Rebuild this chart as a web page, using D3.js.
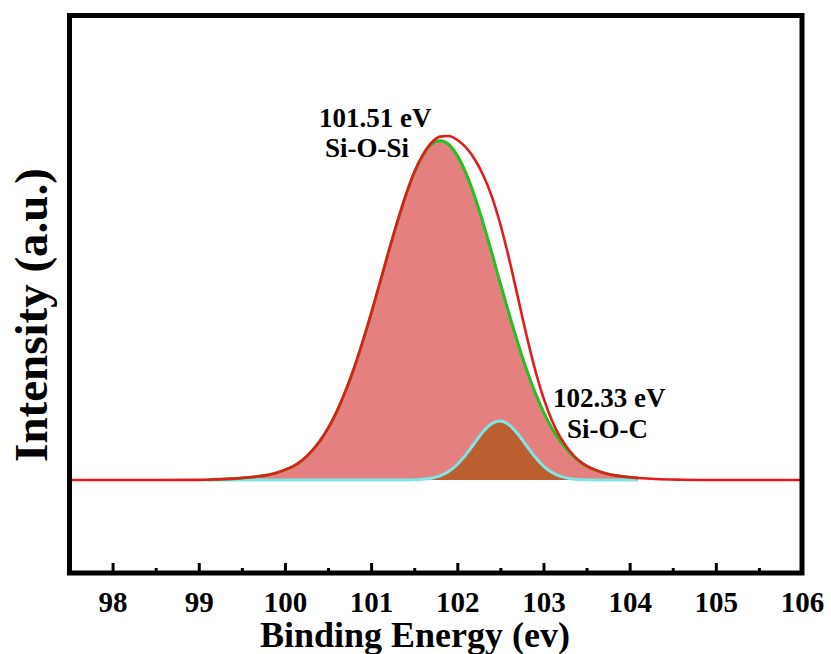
<!DOCTYPE html>
<html>
<head>
<meta charset="utf-8">
<script src="https://cdn.jsdelivr.net/npm/d3@7"></script>
<style>
  html, body { margin: 0; padding: 0; background: #fff; }
  svg { display: block; }
  text { font-family: "Liberation Serif", "Times New Roman", serif; font-weight: bold; fill: #000; }
</style>
</head>
<body>
<div id="chart"></div>
<script>
// --- Données (XPS Si 2p)
const energy = [
  97.5, 98.0, 98.5, 99.0,
  99.1, 99.2, 99.3, 99.4, 99.5, 99.6, 99.7, 99.8, 99.9, 100.0,
  100.1, 100.2, 100.3, 100.4, 100.5, 100.6, 100.7, 100.8, 100.9, 101.0,
  101.1, 101.2, 101.3, 101.4, 101.5, 101.6, 101.7, 101.8, 101.9, 102.0,
  102.1, 102.2, 102.3, 102.4, 102.5, 102.6, 102.7, 102.8, 102.9, 103.0,
  103.1, 103.2, 103.3, 103.4, 103.5, 103.6, 103.7, 103.8, 103.9, 104.0,
  104.1,
  104.3, 104.6, 105.0, 105.5, 106.0
];

// enveloppe (rouge)
const envelope = [
  0, 0, 0, 0.05,
  0.1, 0.2, 0.3, 0.4, 0.6, 0.8, 1.1, 1.5, 2.1, 3.0,
  4.1, 5.8, 8.2, 11.3, 15.2, 20.1, 26.0, 32.8, 40.6, 49.0,
  57.9, 67.0, 75.7, 83.7, 90.6, 95.8, 99.4, 101.2, 101.4, 100.2,
  98.0, 94.6, 89.9, 83.6, 75.3, 65.3, 54.2, 43.0, 32.8, 24.2,
  17.4, 12.4, 8.7, 6.0, 4.2, 3.0, 2.1, 1.5, 1.1, 0.8,
  0.6,
  0.3, 0.1, 0, 0, 0
];

// composante Si-O-Si (vert, remplissage rose)
const siOSi = [
  null, null, null, null,
  0.1, 0.2, 0.3, 0.4, 0.6, 0.8, 1.1, 1.5, 2.1, 3.0,
  4.1, 5.8, 8.2, 11.3, 15.2, 20.1, 26.0, 32.8, 40.6, 49.0,
  57.9, 67.0, 75.7, 83.7, 90.5, 95.6, 98.9, 100, 98.9, 95.6,
  90.5, 83.7, 75.7, 67.0, 57.9, 49.0, 40.6, 32.8, 26.0, 20.1,
  15.2, 11.3, 8.2, 5.8, 4.1, 3.0, 2.1, 1.5, 1.1, 0.8,
  0.6,
  null, null, null, null, null
];

// composante Si-O-C (cyan, remplissage brun)
const siOC = [
  null, null, null, null,
  0, 0, 0, 0, 0, 0, 0, 0, 0, 0,
  0, 0, 0, 0, 0, 0, 0, 0, 0, 0,
  0, 0, 0, 0, 0.07, 0.21, 0.54, 1.24, 2.52, 4.58,
  7.47, 10.91, 14.24, 16.63, 17.4, 16.27, 13.62, 10.20, 6.84, 4.10,
  2.20, 1.06, 0.45, 0.17, 0.06, 0, 0, 0, 0, 0,
  0,
  null, null, null, null, null
];

const xTicks = [98, 99, 100, 101, 102, 103, 104, 105, 106];
const xMinorTicks = [98.5, 99.5, 100.5, 101.5, 102.5, 103.5, 104.5, 105.5];

const peakLabels = [
  { energy: '101.51 eV', bond: 'Si-O-Si' },
  { energy: '102.33 eV', bond: 'Si-O-C' }
];

// --- Mise en page
const W = 831, H = 654;
const frame = { l: 69.5, r: 802, t: 15.5, b: 573 };

const svg = d3.select('#chart').append('svg')
  .attr('width', W).attr('height', H);

const x = d3.scaleLinear().domain([97.5, 106]).range([frame.l, frame.r]);
const y = d3.scaleLinear().domain([-27.4, 136.9]).range([frame.b, frame.t]);

const rows = energy.map((e, i) => ({ e, env: envelope[i], a: siOSi[i], b: siOC[i] }));

const plot = svg.append('g');

// remplissages
const areaA = d3.area().defined(d => d.a != null)
  .x(d => x(d.e)).y0(y(0)).y1(d => y(d.a)).curve(d3.curveMonotoneX);
const areaB = d3.area().defined(d => d.b != null)
  .x(d => x(d.e)).y0(y(0)).y1(d => y(d.b)).curve(d3.curveMonotoneX);

plot.append('path').datum(rows).attr('d', areaA).attr('fill', '#e48080');
plot.append('path').datum(rows).attr('d', areaB).attr('fill', '#bb5f30');

// courbes
const lineOf = key => d3.line().defined(d => d[key] != null)
  .x(d => x(d.e)).y(d => y(d[key])).curve(d3.curveMonotoneX);

plot.append('path').datum(rows).attr('d', lineOf('b'))
  .attr('fill', 'none').attr('stroke', '#7fe6e8').attr('stroke-width', 3);
plot.append('path').datum(rows).attr('d', lineOf('a'))
  .attr('fill', 'none').attr('stroke', '#22c022').attr('stroke-width', 3);
plot.append('path').datum(rows).attr('d', lineOf('env'))
  .attr('fill', 'none').attr('stroke', '#e41a1c').attr('stroke-width', 2.6);

// --- Axe X (graduations vers l'intérieur)
const gx = svg.append('g').attr('transform', `translate(0,${frame.b})`)
  .call(d3.axisBottom(x).tickValues(xTicks).tickFormat(d3.format('d'))
    .tickSizeInner(-10).tickSizeOuter(0).tickPadding(18));
gx.select('.domain').remove();
gx.selectAll('line').attr('stroke', '#000').attr('stroke-width', 3);
gx.selectAll('text').attr('font-size', 29).style('font-family', '"Liberation Serif", serif').style('font-weight', 'bold');

const gxm = svg.append('g').attr('transform', `translate(0,${frame.b})`)
  .call(d3.axisBottom(x).tickValues(xMinorTicks).tickFormat('')
    .tickSizeInner(-5).tickSizeOuter(0));
gxm.select('.domain').remove();
gxm.selectAll('line').attr('stroke', '#000').attr('stroke-width', 3);

// cadre
svg.append('rect')
  .attr('x', frame.l).attr('y', frame.t)
  .attr('width', frame.r - frame.l).attr('height', frame.b - frame.t)
  .attr('fill', 'none').attr('stroke', '#000').attr('stroke-width', 5);

// --- Titres
svg.append('text')
  .attr('x', 415).attr('y', 647)
  .attr('text-anchor', 'middle').attr('font-size', 36)
  .text('Binding Energy (ev)');

svg.append('text')
  .attr('transform', 'translate(47,315) rotate(-90)')
  .attr('text-anchor', 'middle').attr('font-size', 47)
  .text('Intensity (a.u.)');

// --- Annotations des pics
const ann = svg.append('g').attr('font-size', 27);
ann.append('text').attr('x', 319).attr('y', 127).text(peakLabels[0].energy);
ann.append('text').attr('x', 325).attr('y', 157).text(peakLabels[0].bond);
ann.append('text').attr('x', 553).attr('y', 407).text(peakLabels[1].energy);
ann.append('text').attr('x', 567).attr('y', 438).text(peakLabels[1].bond);
</script>
</body>
</html>
